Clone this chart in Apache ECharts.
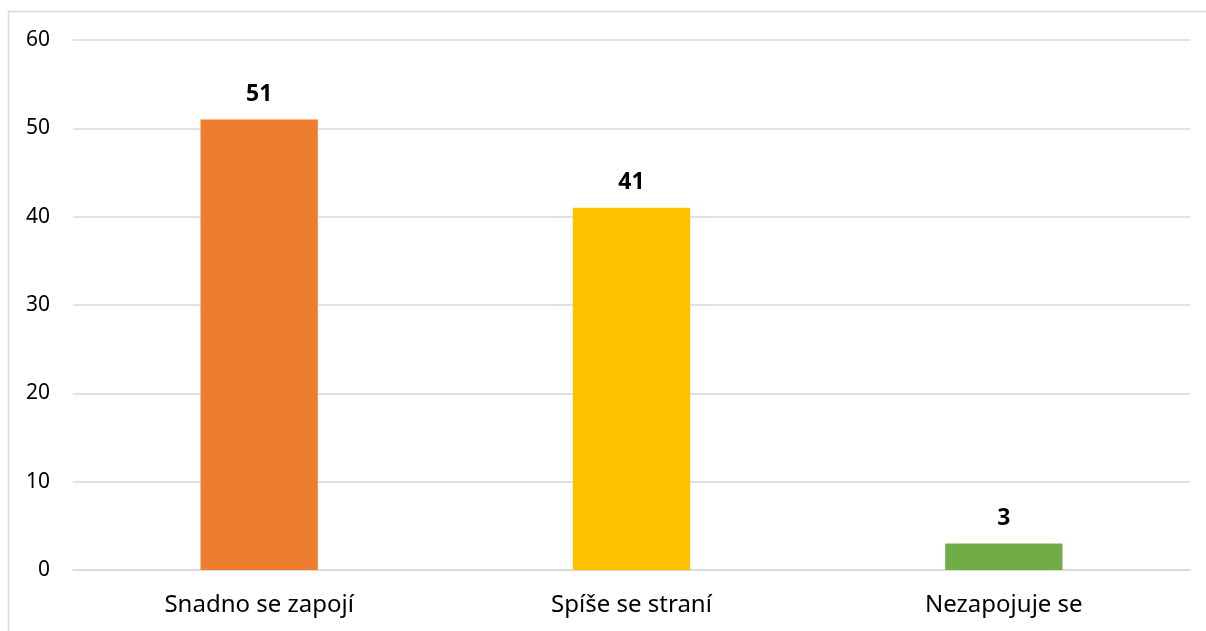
<!DOCTYPE html>
<html>
<head>
<meta charset="utf-8">
<script src="https://cdn.jsdelivr.net/npm/echarts@6/dist/echarts.min.js"></script>
<style>
  html, body { margin: 0; padding: 0; background: #fff; }
  #chart { width: 1206px; height: 631px; }
</style>
</head>
<body>
<div id="chart"></div>
<script>
// data
const categories = ['Snadno se zapojí', 'Spíše se straní', 'Nezapojuje se'];
const values = [51, 41, 3];
const barColors = ['#ED7D31', '#FFC000', '#70AD47'];
const yTicks = { min: 0, max: 60, interval: 10 };

const chart = echarts.init(document.getElementById('chart'));

const option = {
  backgroundColor: '#fff',
  animation: false,
  textStyle: { fontFamily: '"Noto Sans", sans-serif' },
  graphic: [{
    type: 'rect',
    shape: { x: 8.5, y: 11.5, width: 1210, height: 640 },
    style: { fill: 'none', stroke: '#D9D9D9', lineWidth: 1.5 },
    silent: true
  }],
  grid: { left: 73, right: 16, top: 40, bottom: 61, containLabel: false },
  xAxis: {
    type: 'category',
    data: categories,
    axisLine: { show: true, lineStyle: { color: '#D9D9D9', width: 1.5 } },
    axisTick: { show: false },
    axisLabel: { fontSize: 24, color: '#000', margin: 23 }
  },
  yAxis: {
    type: 'value',
    min: yTicks.min,
    max: yTicks.max,
    interval: yTicks.interval,
    axisLine: { show: false },
    axisTick: { show: false },
    axisLabel: { fontSize: 21, color: '#000', margin: 23 },
    splitLine: { lineStyle: { color: '#D9D9D9', width: 1.5 } }
  },
  series: [{
    type: 'bar',
    barWidth: '31.5%',
    data: values.map((v, i) => ({ value: v, itemStyle: { color: barColors[i] } })),
    label: {
      show: true,
      position: 'top',
      distance: 14,
      fontSize: 23,
      fontWeight: 'bold',
      color: '#000'
    }
  }]
};

chart.setOption(option);
</script>
</body>
</html>
